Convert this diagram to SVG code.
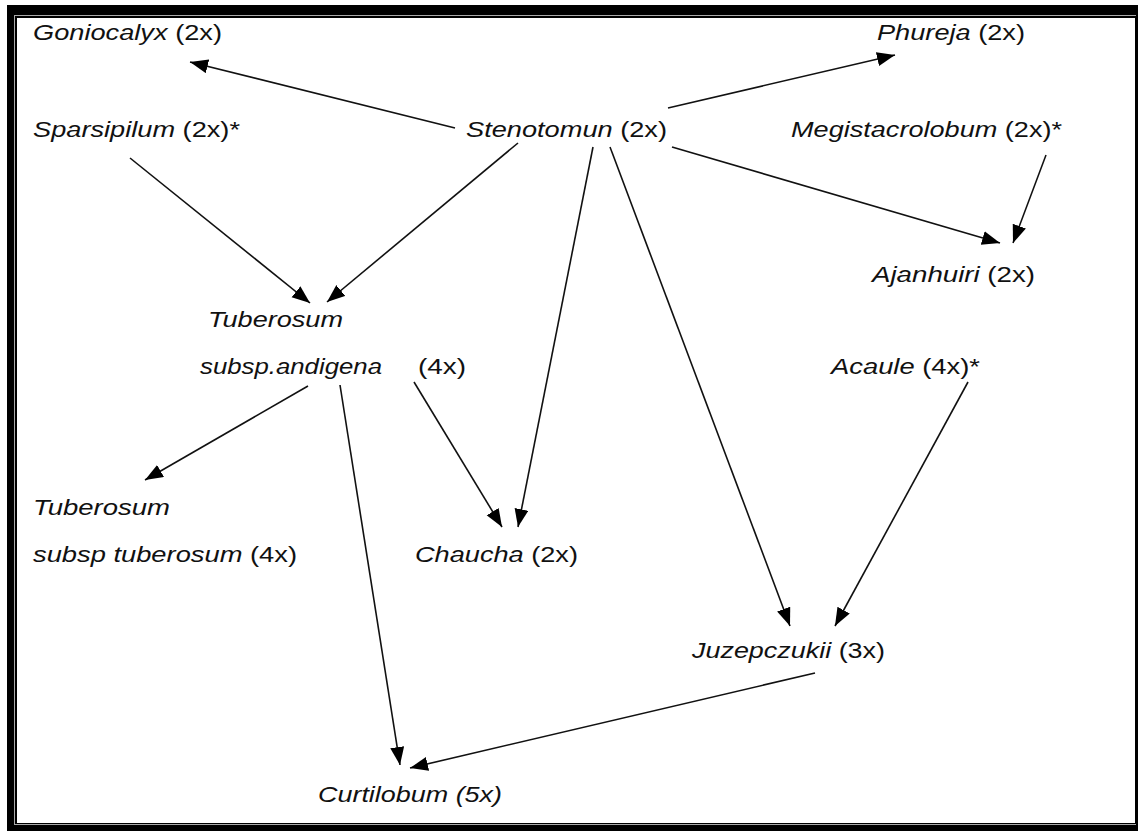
<svg xmlns="http://www.w3.org/2000/svg" width="1138" height="831" viewBox="0 0 1138 831">
<style>
text{font-family:"Liberation Sans",Arial,sans-serif;font-size:22px;fill:#111}
.i{font-style:italic}
.c line{stroke:#111;stroke-width:1.6;marker-end:url(#ah)}
</style>
<defs>
<marker id="ah" markerUnits="userSpaceOnUse" markerWidth="20" markerHeight="16" refX="18" refY="7" orient="auto">
<path d="M0,0 L18,7 L0,14 z" fill="#000"/>
</marker>
</defs>
<rect x="0" y="0" width="1138" height="831" fill="#fff"/>
<rect x="7" y="5" width="1131" height="826" fill="#000"/>
<rect x="14" y="15" width="1122" height="810" fill="#aaa"/>
<rect x="15" y="16" width="1121" height="808" fill="#000"/>
<rect x="17" y="18" width="1118" height="805" fill="#fff"/>

<g class="c" id="connectors">
<line x1="455" y1="128" x2="190" y2="62"/>
<line x1="668" y1="108" x2="895" y2="55"/>
<line x1="130" y1="158" x2="310" y2="303"/>
<line x1="518" y1="143" x2="327" y2="302"/>
<line x1="593" y1="147" x2="518" y2="527"/>
<line x1="610" y1="147" x2="790" y2="626"/>
<line x1="672" y1="147" x2="1000" y2="243"/>
<line x1="1046" y1="155" x2="1013" y2="243"/>
<line x1="308" y1="386" x2="145" y2="480"/>
<line x1="340" y1="385" x2="400" y2="765"/>
<line x1="414" y1="382" x2="502" y2="527"/>
<line x1="968" y1="382" x2="835" y2="626"/>
<line x1="815" y1="673" x2="410" y2="768"/>
</g>

<g id="goniocalyx"><text x="33" y="40" textLength="189" lengthAdjust="spacingAndGlyphs"><tspan class="i">Goniocalyx</tspan> (2x)</text></g>
<g id="phureja"><text x="877" y="40" textLength="148" lengthAdjust="spacingAndGlyphs"><tspan class="i">Phureja</tspan> (2x)</text></g>
<g id="sparsipilum"><text x="33" y="137" textLength="207" lengthAdjust="spacingAndGlyphs"><tspan class="i">Sparsipilum</tspan> (2x)*</text></g>
<g id="stenotomun"><text x="466" y="137" textLength="201" lengthAdjust="spacingAndGlyphs"><tspan class="i">Stenotomun</tspan> (2x)</text></g>
<g id="megistacrolobum"><text x="791" y="137" textLength="271" lengthAdjust="spacingAndGlyphs"><tspan class="i">Megistacrolobum</tspan> (2x)*</text></g>
<g id="ajanhuiri"><text x="872" y="282" textLength="163" lengthAdjust="spacingAndGlyphs"><tspan class="i">Ajanhuiri</tspan> (2x)</text></g>
<g id="andigena">
<text class="i" x="208" y="327" textLength="135" lengthAdjust="spacingAndGlyphs">Tuberosum</text>
<text class="i" x="200" y="374" textLength="182" lengthAdjust="spacingAndGlyphs">subsp.andigena</text>
<text x="418" y="374" textLength="48" lengthAdjust="spacingAndGlyphs">(4x)</text>
</g>
<g id="acaule"><text x="831" y="374" textLength="149" lengthAdjust="spacingAndGlyphs"><tspan class="i">Acaule</tspan> (4x)*</text></g>
<g id="tuberosum">
<text class="i" x="33" y="515" textLength="137" lengthAdjust="spacingAndGlyphs">Tuberosum</text>
<text x="33" y="562" textLength="264" lengthAdjust="spacingAndGlyphs"><tspan class="i">subsp tuberosum</tspan> (4x)</text>
</g>
<g id="chaucha"><text x="415" y="562" textLength="163" lengthAdjust="spacingAndGlyphs"><tspan class="i">Chaucha</tspan> (2x)</text></g>
<g id="juzepczukii"><text x="692" y="658" textLength="193" lengthAdjust="spacingAndGlyphs"><tspan class="i">Juzepczukii</tspan> (3x)</text></g>
<g id="curtilobum"><text class="i" x="318" y="802" textLength="184" lengthAdjust="spacingAndGlyphs">Curtilobum (5x)</text></g>
</svg>
